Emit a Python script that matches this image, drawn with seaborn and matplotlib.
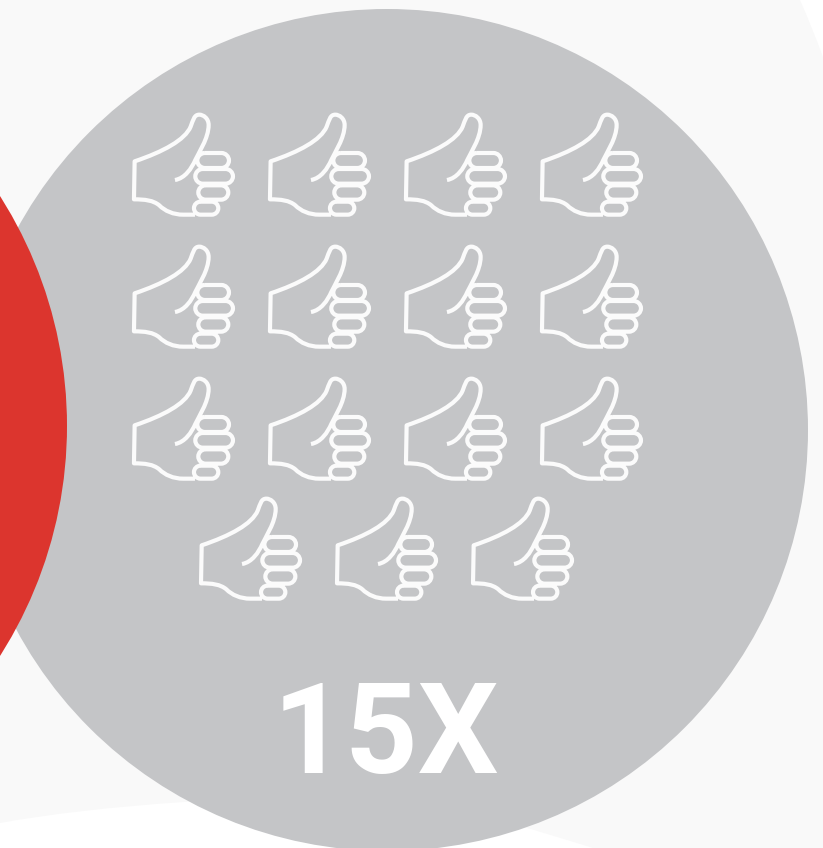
import matplotlib
matplotlib.use("Agg")
import matplotlib.pyplot as plt
import pandas as pd
import seaborn as sns
from matplotlib.patches import Circle, PathPatch
from matplotlib.path import Path

# One entry per thumbs-up icon: grid column and row
thumb_col = [0, 1, 2, 3, 0, 1, 2, 3, 0, 1, 2, 3, 0.493, 1.493, 2.493]
thumb_row = [0, 0, 0, 0, 1, 1, 1, 1, 2, 2, 2, 2, 2.909, 2.909, 2.909]

RED = "#dc352e"
GREY = "#c4c5c7"
PALE = "#f9f9f9"
ICON = "#fbfbfb"

W, H = 823, 848

sns.set_theme(style="white")
plt.rcParams["font.family"] = ["Roboto", "DejaVu Sans"]


def rounded_box(x0, y0, x1, y1):
    """Closed stadium outline as Bezier segments."""
    r = (y1 - y0) / 2
    k = 0.55 * r
    verts = [
        (x0 + r, y0), (x1 - r, y0),
        (x1 - r + k, y0), (x1, y0 + r - k), (x1, y0 + r),
        (x1, y0 + r + k), (x1 - r + k, y1), (x1 - r, y1),
        (x0 + r, y1),
        (x0 + r - k, y1), (x0, y0 + r + k), (x0, y0 + r),
        (x0, y0 + r - k), (x0 + r - k, y0), (x0 + r, y0),
    ]
    codes = [Path.MOVETO, Path.LINETO] + [Path.CURVE4] * 6 + [Path.LINETO] + [Path.CURVE4] * 6
    return verts, codes


def thumb_marker():
    """Outline of a thumbs-up hand, built in pixel units about its centre."""
    hand = [
        (165, 240), (195, 235), (215, 205), (226, 180),
        (235, 160), (266, 115), (266, 75),
        (266, 55), (250, 44), (238, 44),
        (222, 44), (220, 60), (212, 80),
        (195, 120), (130, 155), (44, 184),
        (42, 298),
        (75, 298), (100, 301), (118, 316),
        (135, 333), (160, 344), (190, 344),
        (225, 344),
    ]
    hand_codes = [Path.MOVETO] + [Path.CURVE4] * 15 + [Path.LINETO] + [Path.CURVE4] * 6 + [Path.LINETO]
    verts, codes = list(hand), list(hand_codes)
    for box in [(232, 159, 327, 204), (226, 207, 339, 251), (235, 256, 325, 299), (222, 305, 295, 344)]:
        v, c = rounded_box(*box)
        verts += v
        codes += c
    # Centre the outline and flip it, since marker space has y pointing up
    cx, cy = 190, 195
    pts = [((x - cx) / 3, (cy - y) / 3) for x, y in verts]
    return Path(pts, codes)


fig = plt.figure(figsize=(W / 100, H / 100), dpi=100, facecolor="white")

# Background shapes, laid out in pixel units
ax = fig.add_axes([0, 0, 1, 1])
ax.set_xlim(0, W)
ax.set_ylim(H, 0)
ax.axis("off")

pale_verts = [
    (0, 0), (800, 0),
    (808, 18), (816, 38), (823, 57),
    (823, H), (593, H),
    (560, 838), (530, 828), (480, 815),
    (400, 795), (300, 795), (184, 802),
    (110, 807), (50, 814), (0, 823),
    (0, 0),
]
pale_codes = [Path.MOVETO, Path.LINETO] + [Path.CURVE4] * 3 + [Path.LINETO, Path.LINETO] + [Path.CURVE4] * 9 + [Path.CLOSEPOLY]
ax.add_patch(PathPatch(Path(pale_verts, pale_codes), facecolor=PALE, edgecolor="none", zorder=1))
ax.add_patch(Circle((387, 430), 421, facecolor=GREY, edgecolor="none", zorder=2))
ax.add_patch(Circle((-361, 426), 428, facecolor=RED, edgecolor="none", zorder=3))

# Icons, placed by grid position
ax_icons = fig.add_axes([0, 0, 1, 1])
col_px, row_px = 136, 132
x0, y0 = 183.3, 165

marker = thumb_marker()
extent = abs(marker.vertices).max()
size = (2 * extent * 72 / 100) ** 2

icons = pd.DataFrame({"col": thumb_col, "row": thumb_row})
sns.scatterplot(
    data=icons, x="col", y="row", ax=ax_icons,
    marker=marker, s=size, facecolor="none", edgecolor=ICON, linewidth=3.0,
    legend=False, clip_on=False,
)
ax_icons.set_xlabel("")
ax_icons.set_ylabel("")
ax_icons.set_xlim(-x0 / col_px, (W - x0) / col_px)
ax_icons.set_ylim((H - y0) / row_px, -y0 / row_px)
ax_icons.axis("off")

ax_icons.text(
    385.5 / W, 1 - 773 / H, f"{len(icons)}X", transform=ax_icons.transAxes,
    ha="center", va="baseline", color="white", fontsize=91.5, fontweight="bold",
    family=["Roboto", "DejaVu Sans"],
)

fig.savefig("out.png", dpi=100, facecolor="white")
